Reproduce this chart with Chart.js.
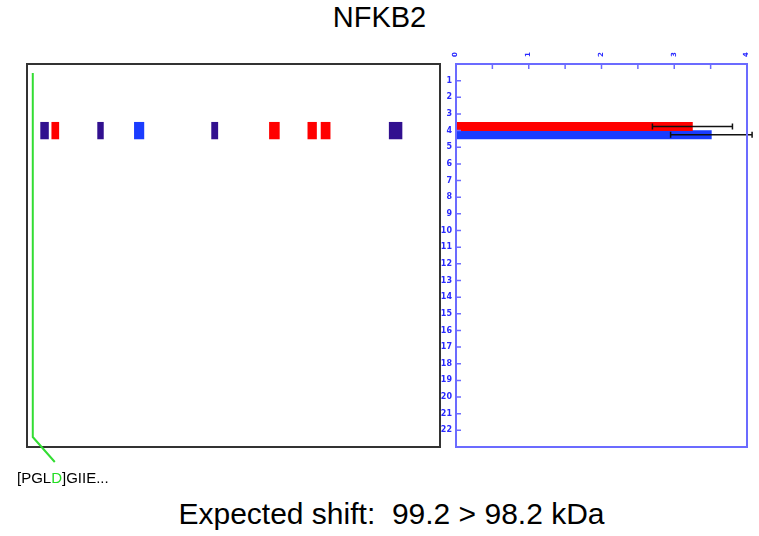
<!DOCTYPE html>
<html>
<head>
<meta charset="utf-8">
<script src="https://cdn.jsdelivr.net/npm/chart.js@4.4.1/dist/chart.umd.min.js"></script>
<style>
  body { margin: 0; background: #fff; width: 759px; height: 536px; position: relative; overflow: hidden;
         font-family: "Liberation Sans", Arial, sans-serif; }
  canvas { position: absolute; }
  #lane-canvas { left: 0; top: 40px; }
  #bar-canvas  { left: 440px; top: 30px; }
  .txt { position: absolute; white-space: pre; color: #000; }
  #title  { left: 0; width: 759px; top: 3px; text-align: center; font-size: 29px; line-height: 29px; }
  #footer { left: 12px; width: 759px; top: 499px; text-align: center; font-size: 30px; line-height: 30px; }
  #peptide { left: 17px; top: 470px; font-size: 15px; line-height: 15px; }
  #peptide span { color: #22dd22; }
</style>
</head>
<body>
<div id="title" class="txt">NFKB2</div>
<canvas id="lane-canvas" width="450" height="440"></canvas>
<canvas id="bar-canvas" width="319" height="430"></canvas>
<div id="peptide" class="txt">[PGL<span>D</span>]GIIE...</div>
<div id="footer" class="txt">Expected shift:  99.2 &gt; 98.2 kDa</div>

<script>
// ─── DATA ─────────────────────────────────────────────────────────
// Row labels of the right-hand panel (1..22, padded by one empty row each side)
const rowLabels = ["1","2","3","4","5","6","7","8","9","10","11","12","13","14","15","16","17","18","19","20","21","22"];
const hitRow    = "4";

// Right panel: two bars in row 4 with error bars
const redValue  = 3.25;
const redError  = 0.55;
const blueValue = 3.51;
const blueError = 0.56;
const xTicks    = [0, 1, 2, 3, 4];

// Left panel: peptide markers along the lane (0..1000 lane units)
const markStart = [33, 60, 171, 260, 447, 587, 680, 712, 877];
const markEnd   = [52, 77, 185, 283, 462, 611, 701, 734, 908];
const markKind  = ["purple", "red", "purple", "blue", "purple", "red", "red", "red", "purple"];
const guidePos  = 14;

const kindColor = { purple: "#31108f", red: "#ff0000", blue: "#1a3cff" };
const axisBlue  = "#6b6bff";
const labelBlue = "#2a2aff";

const rows = ["", ...rowLabels, ""];
const rowIndex = rows.indexOf(hitRow);

// ─── LEFT PANEL (lane with markers) ───────────────────────────────
const laneFrame = {
  id: "laneFrame",
  afterDatasetsDraw(chart) {
    const { ctx, chartArea: a, scales } = chart;
    ctx.save();
    ctx.strokeStyle = "#333";
    ctx.lineWidth = 2;
    ctx.strokeRect(a.left, a.top, a.right - a.left, a.bottom - a.top);

    // green guide line, bending out to the peptide label
    const gx = scales.x.getPixelForValue(guidePos);
    ctx.strokeStyle = "#33dd33";
    ctx.lineWidth = 2;
    ctx.beginPath();
    ctx.moveTo(gx, a.top + 9);
    ctx.lineTo(gx, a.bottom - 10);
    ctx.lineTo(gx + 22, a.bottom + 15);
    ctx.stroke();
    ctx.restore();
  }
};

new Chart(document.getElementById("lane-canvas"), {
  type: "bar",
  data: {
    labels: rows,
    datasets: markStart.map((s, i) => ({
      data: rows.map((r, j) => (j === rowIndex ? [s, markEnd[i]] : null)),
      backgroundColor: kindColor[markKind[i]],
      grouped: false,
      categoryPercentage: 1,
      barPercentage: 1
    }))
  },
  options: {
    indexAxis: "y",
    responsive: false,
    animation: false,
    layout: { padding: { left: 27, top: 24, right: 10, bottom: 33 } },
    plugins: { legend: { display: false }, tooltip: { enabled: false } },
    scales: {
      x: { type: "linear", min: 0, max: 1000, display: false },
      y: { type: "category", offset: false, display: false }
    }
  },
  plugins: [laneFrame]
});

// ─── RIGHT PANEL (bars + error bars) ──────────────────────────────
const barExtras = {
  id: "barExtras",
  afterDatasetsDraw(chart) {
    const { ctx, chartArea: a, scales } = chart;
    const xs = scales.x, ys = scales.y;
    ctx.save();

    // error bars
    const errs = [redError, blueError];
    const vals = [redValue, blueValue];
    ctx.strokeStyle = "#111";
    ctx.lineWidth = 1.5;
    chart.data.datasets.forEach((ds, d) => {
      const el = chart.getDatasetMeta(d).data[rowIndex];
      const x1 = xs.getPixelForValue(vals[d] - errs[d]);
      const x2 = xs.getPixelForValue(vals[d] + errs[d]);
      ctx.beginPath();
      ctx.moveTo(x1, el.y); ctx.lineTo(x2, el.y);
      ctx.moveTo(x1, el.y - 3); ctx.lineTo(x1, el.y + 3);
      ctx.moveTo(x2, el.y - 3); ctx.lineTo(x2, el.y + 3);
      ctx.stroke();
    });

    // frame
    ctx.strokeStyle = axisBlue;
    ctx.lineWidth = 2;
    ctx.strokeRect(a.left, a.top, a.right - a.left, a.bottom - a.top);

    // inner tick marks
    ctx.lineWidth = 1.5;
    ctx.beginPath();
    xs.ticks.forEach(t => {
      const px = xs.getPixelForValue(t.value);
      ctx.moveTo(px, a.top); ctx.lineTo(px, a.top + 5);
    });
    rowLabels.forEach(r => {
      const py = ys.getPixelForValue(rows.indexOf(r));
      ctx.moveTo(a.left, py); ctx.lineTo(a.left + 5, py);
    });
    ctx.stroke();
    ctx.restore();
  }
};

new Chart(document.getElementById("bar-canvas"), {
  type: "bar",
  data: {
    labels: rows,
    datasets: [
      {
        label: "red",
        data: rows.map((r, j) => (j === rowIndex ? redValue : null)),
        backgroundColor: "#ff0000",
        categoryPercentage: 1,
        barPercentage: 1
      },
      {
        label: "blue",
        data: rows.map((r, j) => (j === rowIndex ? blueValue : null)),
        backgroundColor: "#1a3cff",
        categoryPercentage: 1,
        barPercentage: 1
      }
    ]
  },
  options: {
    indexAxis: "y",
    responsive: false,
    animation: false,
    layout: { padding: { left: 0, top: 18, right: 12, bottom: 13 } },
    plugins: { legend: { display: false }, tooltip: { enabled: false } },
    scales: {
      x: {
        type: "linear",
        position: "top",
        min: xTicks[0],
        max: xTicks[xTicks.length - 1],
        grid: { display: false, drawTicks: false },
        border: { display: false },
        afterFit(scale) { scale.height = 16; },
        ticks: {
          stepSize: 0.5,
          autoSkip: false,
          minRotation: 90,
          maxRotation: 90,
          padding: 7,
          labelOffset: 8,
          color: labelBlue,
          font: { family: "DejaVu Sans", size: 7, weight: "bold" },
          callback: v => (xTicks.includes(v) ? String(v) : "")
        }
      },
      y: {
        type: "category",
        offset: false,
        grid: { display: false, drawTicks: false },
        border: { display: false },
        afterFit(scale) { scale.width = 16; },
        ticks: {
          autoSkip: false,
          padding: 4,
          color: labelBlue,
          font: { family: "DejaVu Sans", size: 8, weight: "bold" }
        }
      }
    }
  },
  plugins: [barExtras]
});
</script>
</body>
</html>
